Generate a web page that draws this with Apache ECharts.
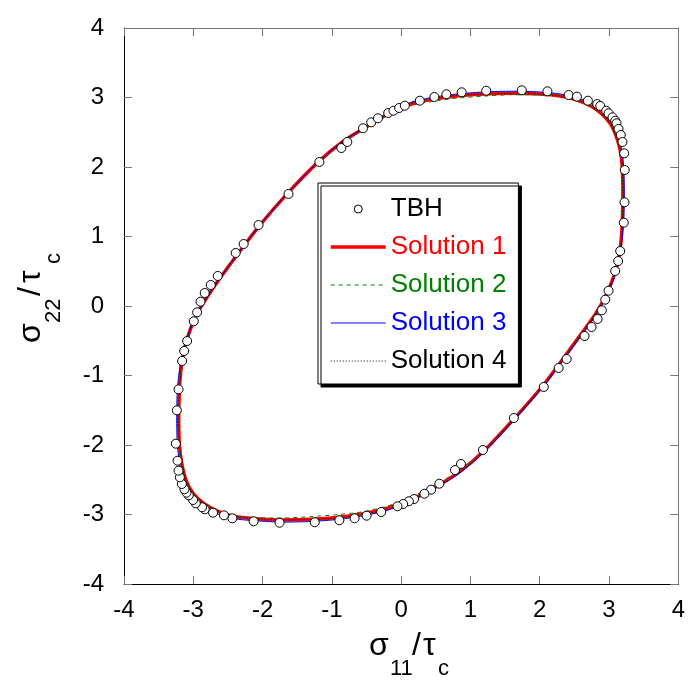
<!DOCTYPE html>
<html>
<head>
<meta charset="utf-8">
<script src="https://cdn.jsdelivr.net/npm/echarts@6/dist/echarts.min.js"></script>
<style>
html,body{margin:0;padding:0;background:#fff;}
#chart{width:688px;height:682px;}
</style>
</head>
<body>
<div id="chart"></div>
<script>
// ---- data ----
const xTicks = [-4, -3, -2, -1, 0, 1, 2, 3, 4];
const yTicks = [-4, -3, -2, -1, 0, 1, 2, 3, 4];

const tbhX = [0.269,0.479,0.652,0.873,1.227,1.741,2.111,2.417,2.537,2.695,2.830,2.873,2.960,2.993,3.050,3.089,3.108,3.137,3.170,3.194,3.219,3.227,3.223,
  3.213,3.161,3.132,3.089,2.993,2.945,2.896,
  2.835,2.748,2.647,2.388,2.273,2.058,1.626,1.180,
  0.863,0.777,0.551,0.432,0.335,0.187,0.111,0.029,-0.053,
  -0.288,-0.499,-0.672,-0.892,-1.247,-1.755,-2.129,
  -2.436,-2.557,-2.715,-2.835,-2.873,-2.964,-3.003,-3.065,-3.098,-3.127,-3.165,-3.194,-3.213,-3.227,-3.252,-3.237,-3.213,-3.161,-3.132,-3.089,-2.993,-2.945,-2.896,
  -2.835,-2.748,-2.647,-2.388,-2.273,-2.058,-1.626,-1.180,
  -0.863,-0.777,-0.551,-0.432,-0.335,-0.187,-0.111,-0.029,0.053];
const tbhY = [2.954,3.007,3.046,3.075,3.098,3.104,3.089,3.036,3.012,2.954,2.906,2.878,2.810,2.773,2.715,2.666,2.629,2.547,2.460,2.360,2.197,1.957,1.492,
  1.199,0.791,0.647,0.504,0.220,0.091,-0.062,
  -0.187,-0.302,-0.432,-0.763,-0.892,-1.165,-1.612,-2.072,
  -2.273,-2.360,-2.557,-2.643,-2.701,-2.777,-2.810,-2.849,-2.882,
  -2.964,-3.017,-3.055,-3.083,-3.112,-3.118,-3.098,
  -3.055,-3.012,-2.974,-2.925,-2.896,-2.839,-2.791,-2.724,-2.686,-2.637,-2.561,-2.465,-2.370,-2.226,-1.981,-1.501,-1.199,-0.791,-0.647,-0.504,-0.220,-0.091,0.062,
  0.187,0.302,0.432,0.763,0.892,1.165,1.612,2.072,
  2.273,2.360,2.557,2.643,2.701,2.777,2.810,2.849,2.882];

const solX = [-0.05,0.2,0.5,0.8,1.2,1.6,2.0,2.3,2.55,2.75,2.9,3.02,3.1,3.16,3.19,3.2,3.19,3.17,3.12,3.04,2.94,2.8,2.6,2.35,2.05,1.65,1.2,0.85,0.5,0.15,-0.2,-0.55,-0.9,-1.3,-1.7,-2.1,-2.4,-2.65,-2.85,-3.0,-3.1,-3.16,-3.2,-3.21,-3.2,-3.17,-3.12,-3.04,-2.94,-2.8,-2.6,-2.35,-2.05,-1.65,-1.2,-0.85,-0.5,-0.2,-0.05];
const sol1Y = [2.84,2.92,2.98,3.02,3.05,3.06,3.05,3.02,2.96,2.87,2.76,2.62,2.45,2.25,2.0,1.6,1.2,0.9,0.6,0.35,0.12,-0.12,-0.4,-0.74,-1.14,-1.6,-2.08,-2.38,-2.6,-2.78,-2.91,-2.99,-3.04,-3.07,-3.08,-3.06,-3.03,-2.95,-2.84,-2.7,-2.52,-2.3,-2.0,-1.6,-1.2,-0.85,-0.58,-0.33,-0.1,0.13,0.42,0.76,1.15,1.61,2.07,2.36,2.58,2.76,2.84];
const sol2Y = [2.83,2.9,2.95,2.99,3.02,3.04,3.04,3.02,2.96,2.87,2.76,2.62,2.45,2.25,2.0,1.6,1.2,0.9,0.6,0.35,0.12,-0.12,-0.4,-0.74,-1.14,-1.6,-2.07,-2.36,-2.57,-2.75,-2.88,-2.96,-3.0,-3.03,-3.05,-3.05,-3.03,-2.95,-2.84,-2.7,-2.52,-2.3,-2.0,-1.6,-1.2,-0.85,-0.58,-0.33,-0.1,0.13,0.42,0.76,1.15,1.61,2.07,2.35,2.56,2.74,2.83];
const sol3X = [-0.05,0.2,0.5,0.8,1.2,1.6,2.0,2.3,2.56,2.77,2.93,3.05,3.13,3.18,3.21,3.22,3.21,3.18,3.13,3.05,2.95,2.81,2.61,2.36,2.06,1.66,1.21,0.85,0.5,0.15,-0.2,-0.55,-0.9,-1.3,-1.7,-2.1,-2.42,-2.68,-2.88,-3.03,-3.13,-3.19,-3.23,-3.24,-3.23,-3.19,-3.13,-3.05,-2.95,-2.81,-2.61,-2.36,-2.06,-1.66,-1.21,-0.85,-0.5,-0.2,-0.05];
const sol3Y = [2.86,2.95,3.01,3.05,3.08,3.09,3.08,3.05,2.99,2.9,2.78,2.63,2.46,2.26,2.0,1.6,1.2,0.9,0.6,0.34,0.11,-0.13,-0.41,-0.75,-1.15,-1.61,-2.09,-2.4,-2.62,-2.81,-2.94,-3.02,-3.07,-3.1,-3.11,-3.09,-3.06,-2.98,-2.86,-2.72,-2.53,-2.31,-2.0,-1.6,-1.2,-0.86,-0.59,-0.34,-0.11,0.12,0.41,0.75,1.14,1.6,2.06,2.36,2.58,2.77,2.86];
const sol4Y = [2.84,2.93,2.99,3.03,3.05,3.06,3.05,3.02,2.96,2.87,2.76,2.62,2.45,2.25,2.0,1.6,1.2,0.9,0.6,0.35,0.12,-0.12,-0.4,-0.74,-1.14,-1.6,-2.08,-2.39,-2.61,-2.79,-2.92,-3.0,-3.05,-3.07,-3.08,-3.06,-3.03,-2.95,-2.84,-2.7,-2.52,-2.3,-2.0,-1.6,-1.2,-0.85,-0.58,-0.33,-0.1,0.13,0.42,0.76,1.15,1.61,2.07,2.37,2.59,2.77,2.84];

const seriesNames = ['TBH', 'Solution 1', 'Solution 2', 'Solution 3', 'Solution 4'];

// ---- build ----
const zip = (xs, ys) => xs.map((x, i) => [x, ys[i]]);
const FONT = '"Liberation Sans", Arial, Helvetica, sans-serif';

const chart = echarts.init(document.getElementById('chart'), null, {renderer: 'canvas'});

function axisCommon(ticks, pos, primary) {
  return {
    type: 'value', min: ticks[0], max: ticks[ticks.length - 1], interval: ticks[1] - ticks[0],
    position: pos,
    axisLine: {show: true, onZero: false, lineStyle: {color: primary ? '#000' : '#777', width: 1}},
    axisTick: {show: true, inside: true, length: 8, lineStyle: {color: '#777', width: 1}},
    axisLabel: primary ? {show: true, fontSize: 24, color: '#000', fontFamily: FONT, margin: pos === 'bottom' ? 14 : 20} : {show: false},
    splitLine: {show: false}
  };
}

function lineSeries(name, data, color, width, type) {
  return {
    name: name, type: 'line', data: data, symbol: 'none', smooth: 0.25,
    lineStyle: {color: color, width: width, type: type},
    itemStyle: {color: color},
    z: 2
  };
}

const subStyle = {fontSize: 22, fontFamily: FONT, fill: '#000', align: 'left', verticalAlign: 'middle'};
const bigStyle = {fontSize: 32, fontFamily: FONT, fill: '#000', align: 'left', verticalAlign: 'middle'};
function titleParts(sub, pos) {
  return [
    {type: 'text', x: 0, y: 0, style: Object.assign({text: 'σ'}, bigStyle)},
    {type: 'text', x: pos[0], y: 23, style: Object.assign({text: sub}, subStyle)},
    {type: 'text', x: pos[1], y: 0, style: Object.assign({text: '/'}, bigStyle)},
    {type: 'text', x: pos[2], y: 0, style: Object.assign({text: 'τ'}, bigStyle)},
    {type: 'text', x: pos[3], y: 23, style: Object.assign({text: 'c'}, subStyle)}
  ];
}

const hideSym = {opacity: 0};
const option = {
  animation: false,
  backgroundColor: '#fff',
  grid: {left: 124, top: 28, right: 8, bottom: 98, containLabel: false},
  xAxis: [axisCommon(xTicks, 'bottom', true), axisCommon(xTicks, 'top', false)],
  yAxis: [axisCommon(yTicks, 'left', true), axisCommon(yTicks, 'right', false)],
  legend: {
    orient: 'vertical', left: 318, top: 183,
    padding: [13, 12, 10, 11],
    itemWidth: 55, itemHeight: 8, itemGap: 12,
    backgroundColor: '#fff', borderColor: '#000', borderWidth: 1,
    shadowColor: '#000', shadowOffsetX: 3, shadowOffsetY: 3, shadowBlur: 0,
    selectedMode: false,
    textStyle: {fontSize: 26, fontFamily: FONT},
    lineStyle: {width: 'inherit'},
    itemStyle: {borderWidth: 'inherit'},
    data: [
      {name: seriesNames[0], textStyle: {color: '#000'}},
      {name: seriesNames[1], textStyle: {color: '#ff0000'}, itemStyle: hideSym},
      {name: seriesNames[2], textStyle: {color: '#008000'}, itemStyle: hideSym},
      {name: seriesNames[3], textStyle: {color: '#0000ff'}, itemStyle: hideSym},
      {name: seriesNames[4], textStyle: {color: '#000'}, itemStyle: hideSym}
    ]
  },
  graphic: [
    {type: 'group', x: 369, y: 646, children: titleParts('11', [21, 43, 54, 69])},
    {type: 'group', x: 31, y: 343, rotation: Math.PI / 2, children: titleParts('22', [20, 47, 60, 79])}
  ],
  series: [
    {
      name: seriesNames[0], type: 'scatter', data: zip(tbhX, tbhY),
      symbol: 'circle', symbolSize: 9,
      itemStyle: {color: '#fff', borderColor: '#000', borderWidth: 1, opacity: 1},
      z: 5
    },
    lineSeries(seriesNames[1], zip(solX, sol1Y), '#ff0000', 3.5, 'solid'),
    lineSeries(seriesNames[2], zip(solX, sol2Y), '#008000', 1, [4, 4]),
    lineSeries(seriesNames[3], zip(sol3X, sol3Y), '#0000ff', 1, 'solid'),
    lineSeries(seriesNames[4], zip(solX, sol4Y), '#000', 1, [1, 2])
  ]
};
chart.setOption(option);
</script>
</body>
</html>
